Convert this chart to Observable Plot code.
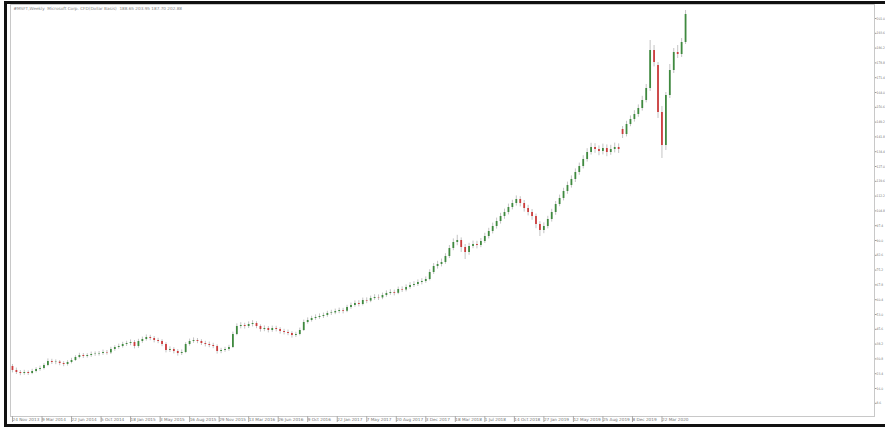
<!DOCTYPE html>
<html><head><meta charset="utf-8">
<script src="https://cdn.jsdelivr.net/npm/d3@7"></script>
<script src="https://cdn.jsdelivr.net/npm/@observablehq/plot@0.6"></script>
<style>
html,body{margin:0;padding:0;background:#fff;}
#wrap{position:relative;width:885px;height:427px;overflow:hidden;background:#fff;}
#chart svg{display:block;}
.bl{position:absolute;background:#111;}
</style></head><body>
<div id="wrap"><div id="chart"></div>
<div class="bl" style="left:4px;top:1px;width:881px;height:3px"></div>
<div class="bl" style="left:4px;top:1px;width:3px;height:426px"></div>
<div class="bl" style="left:4px;top:424px;width:881px;height:3px"></div>
</div>
<script>
const titleText = "#MSFT,Weekly  Microsoft Corp. CFD(Dollar Basis)  188.65 203.95 187.70 202.88";
const firstBar = "2013-11-24";
const barDays = 14;

const open = [
27.0,25.0,24.0,23.5,24.0,23.5,24.5,25.5,26.0,27.5,
29.5,29.0,29.2,28.5,28.0,29.0,30.0,31.5,32.5,32.0,
32.5,33.0,33.2,33.5,34.0,33.8,35.5,36.5,37.0,38.0,
38.5,39.0,37.0,39.5,40.5,41.5,41.0,40.0,39.5,38.0,
35.0,35.5,34.5,33.5,34.0,38.0,39.5,40.0,39.5,38.5,
38.0,37.5,37.0,34.5,35.0,35.5,36.5,43.0,47.0,47.5,
47.0,48.0,48.5,47.0,45.5,46.0,45.0,46.0,45.5,44.5,
44.0,43.5,42.5,43.0,45.0,49.0,50.0,51.0,51.5,52.0,
52.5,53.5,53.8,54.5,55.0,54.6,56.5,57.5,58.5,58.0,
60.0,59.7,61.0,61.5,61.3,62.5,63.5,64.0,63.6,65.5,
65.2,66.5,67.5,68.0,69.0,69.5,70.5,74.0,77.0,78.0,
79.0,82.0,86.0,89.0,90.0,86.5,84.0,87.0,88.0,87.5,
89.5,92.0,94.5,97.0,99.5,102.0,104.0,106.5,108.5,110.5,
108.5,106.0,104.0,102.0,98.0,95.0,97.0,100.5,104.0,108.0,
111.0,114.5,117.5,120.5,124.0,127.0,130.5,134.0,136.5,135.5,
134.5,136.0,134.0,135.5,136.5,145.5,143.0,148.0,150.5,153.0,
156.0,160.0,166.0,185.0,177.5,154.0,137.5,162.5,175.0,184.0,
183.0,189.0];

const high = [
28.0,26.2,25.0,25.1,24.8,25.6,26.4,27.2,28.4,30.8,
30.6,30.3,30.0,29.4,29.9,31.1,32.4,33.6,33.5,33.4,
34.2,34.3,34.5,35.2,35.0,36.6,37.4,38.2,39.1,39.6,
40.3,40.0,40.6,41.7,42.8,42.6,42.0,41.1,40.4,38.9,
36.8,36.4,35.4,35.3,38.9,40.7,41.3,41.0,40.4,39.6,
39.2,38.6,37.8,36.1,36.6,37.6,44.2,48.3,48.9,48.6,
49.3,49.9,49.4,47.8,47.3,47.0,47.2,47.1,46.4,45.6,
45.2,44.4,44.1,46.2,50.2,51.3,52.1,52.8,53.3,53.7,
54.6,55.1,55.7,56.2,56.1,57.6,58.7,59.8,59.9,61.2,
61.3,62.2,62.9,62.8,63.7,64.8,65.4,65.2,66.7,66.8,
67.8,68.9,69.4,70.3,70.9,71.8,75.4,78.5,79.6,80.7,
83.4,87.5,90.8,92.6,91.3,88.0,88.6,89.7,89.6,91.0,
93.6,96.1,98.7,101.2,103.6,105.7,108.2,110.1,112.3,111.9,
110.0,107.6,105.5,103.2,99.4,98.8,102.1,105.6,109.5,112.7,
116.1,119.2,122.3,125.8,128.7,132.4,135.9,138.6,138.4,137.3,
138.2,137.8,137.6,138.7,138.3,147.0,149.6,152.3,154.9,157.8,
162.1,168.0,190.0,187.5,179.0,157.0,164.0,178.0,186.0,187.5,
191.0,205.0];

const low = [
23.8,23.0,22.4,22.6,22.5,22.9,23.8,24.6,25.3,26.9,
28.0,27.9,27.4,26.9,27.2,28.3,29.5,30.8,31.0,31.2,
31.6,32.1,32.2,32.6,32.7,33.0,34.6,35.6,36.2,37.0,
37.4,35.8,36.1,38.6,39.7,39.9,38.8,38.4,36.9,33.8,
34.0,33.3,32.2,32.5,33.4,37.2,38.6,38.4,37.5,36.8,
36.4,35.9,33.2,33.4,34.1,34.6,36.0,42.4,45.8,45.7,
46.0,46.8,45.9,44.2,44.4,43.8,44.1,44.3,43.2,42.8,
42.4,41.2,41.5,42.3,44.5,48.2,49.2,50.1,50.6,51.0,
51.6,52.5,52.9,53.4,53.3,53.9,55.6,56.6,56.8,57.3,
58.4,58.9,60.1,60.0,60.4,61.6,62.6,62.3,62.9,64.0,
64.3,65.6,66.5,67.0,67.8,68.6,69.8,73.0,75.7,76.8,
78.1,81.0,84.9,87.4,84.0,80.5,82.6,85.9,85.8,86.4,
88.5,90.8,93.3,95.7,98.2,100.6,102.8,105.3,107.2,106.8,
104.2,102.3,100.1,95.9,92.0,93.4,95.8,99.2,102.6,106.9,
109.8,113.1,116.2,119.0,122.6,125.8,129.2,132.7,133.6,132.4,
132.8,131.9,132.6,133.8,133.5,141.0,141.8,146.9,149.2,151.6,
154.7,158.8,164.5,176.8,151.0,131.0,135.0,161.0,173.5,181.0,
181.5,188.0];

const close = [
25.0,24.0,23.5,24.0,23.5,24.5,25.5,26.0,27.5,29.5,
29.0,29.2,28.5,28.0,29.0,30.0,31.5,32.5,32.0,32.5,
33.0,33.2,33.5,34.0,33.8,35.5,36.5,37.0,38.0,38.5,
39.0,37.0,39.5,40.5,41.5,41.0,40.0,39.5,38.0,35.0,
35.5,34.5,33.5,34.0,38.0,39.5,40.0,39.5,38.5,38.0,
37.5,37.0,34.5,35.0,35.5,36.5,43.0,47.0,47.5,47.0,
48.0,48.5,47.0,45.5,46.0,45.0,46.0,45.5,44.5,44.0,
43.5,42.5,43.0,45.0,49.0,50.0,51.0,51.5,52.0,52.5,
53.5,53.8,54.5,55.0,54.6,56.5,57.5,58.5,58.0,60.0,
59.7,61.0,61.5,61.3,62.5,63.5,64.0,63.6,65.5,65.2,
66.5,67.5,68.0,69.0,69.5,70.5,74.0,77.0,78.0,79.0,
82.0,86.0,89.0,90.0,86.5,84.0,87.0,88.0,87.5,89.5,
92.0,94.5,97.0,99.5,102.0,104.0,106.5,108.5,110.5,108.5,
106.0,104.0,102.0,98.0,95.0,97.0,100.5,104.0,108.0,111.0,
114.5,117.5,120.5,124.0,127.0,130.5,134.0,136.5,135.5,134.5,
136.0,134.0,135.5,136.5,135.5,143.0,148.0,150.5,153.0,156.0,
160.0,166.0,185.0,179.0,154.0,137.5,162.5,175.0,184.0,183.0,
189.0,203.0];

const xTickLabels = ["2013-11-24","2014-03-09","2014-06-22","2014-10-05","2015-01-18","2015-05-03",
"2015-08-16","2015-11-29","2016-03-13","2016-06-26","2016-10-09","2017-01-22","2017-05-07",
"2017-08-20","2017-12-03","2018-03-18","2018-07-01","2018-10-14","2019-01-27","2019-05-12",
"2019-08-25","2019-12-08","2020-03-22"];
const yTickValues = [201.0,193.6,186.2,178.8,171.4,164.0,156.6,149.2,141.8,134.4,127.0,119.6,112.2,
104.8,97.4,90.0,82.6,75.2,67.8,60.4,53.0,45.6,38.2,30.8,23.4,16.0,8.6];

const start = new Date(firstBar + "T00:00:00Z");
const bars = close.map((c, i) => ({
  date: d3.utcHour.offset(d3.utcDay.offset(start, barDays * i), 24 * barDays / 2),
  open: open[i], high: high[i], low: low[i], close: c
}));
const up = bars.filter(d => d.close >= d.open);
const down = bars.filter(d => d.close < d.open);
const fmt = d3.utcFormat("%-d %b %Y");

const chart = Plot.plot({
  width: 885, height: 427,
  marginLeft: 10, marginRight: 11, marginTop: 4, marginBottom: 11,
  style: {fontFamily: "DejaVu Sans, sans-serif", color: "#777", background: "#fff"},
  x: {type: "utc", domain: [new Date("2013-11-24T00:00:00Z"), new Date("2022-04-24T00:00:00Z")], axis: null},
  y: {domain: [2, 208], axis: null},
  marks: [
    Plot.frame({stroke: "#c8c8c8"}),
    Plot.ruleX(bars, {x: "date", y1: "low", y2: "high", stroke: "#bdbdbd", strokeWidth: 0.9}),
    Plot.ruleX(up, {x: "date", y1: "open", y2: "close", stroke: "#3f8a3f", strokeWidth: 1.8}),
    Plot.ruleX(down, {x: "date", y1: "open", y2: "close", stroke: "#cc3c3c", strokeWidth: 1.8}),
    Plot.axisY(yTickValues, {anchor: "right", tickSize: 1.5, tickPadding: 0.5, fontSize: 3.3,
      fontFamily: "DejaVu Sans Condensed, DejaVu Sans, sans-serif",
      tickFormat: d => d.toFixed(1), stroke: "#999", fill: "#777"}),
    Plot.axisX(xTickLabels.map(s => new Date(s + "T00:00:00Z")), {anchor: "bottom", tickSize: 6, tickPadding: -4.8,
      textAnchor: "start", dx: 2, fontSize: 4.2, tickFormat: fmt, stroke: "#aaa", fill: "#777"}),
    Plot.text([titleText], {frameAnchor: "top-left", dx: 3, dy: 3, fontSize: 4.2, fill: "#888", lineAnchor: "top"})
  ]
});
document.getElementById("chart").appendChild(chart);
</script>
</body></html>
